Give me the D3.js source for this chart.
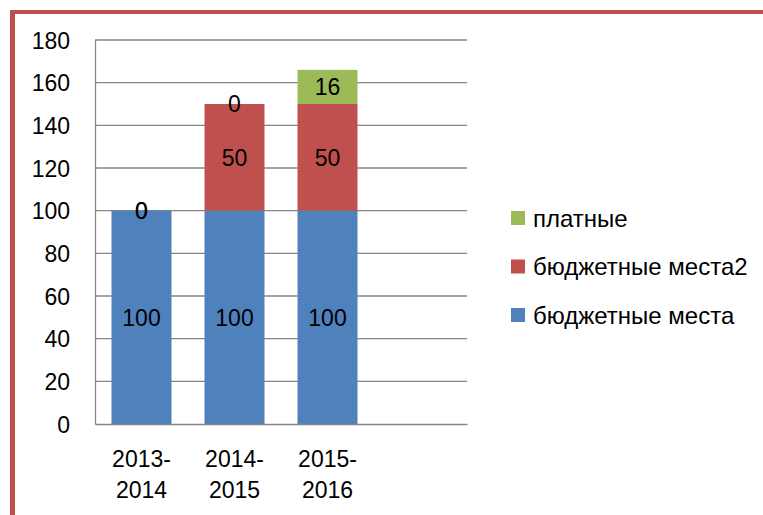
<!DOCTYPE html>
<html>
<head>
<meta charset="utf-8">
<script src="https://cdn.jsdelivr.net/npm/d3@7"></script>
<style>
  body { margin: 0; background: #fff; }
  svg text { font-family: "Liberation Sans", Arial, sans-serif; fill: #000; }
</style>
</head>
<body>
<svg id="chart" width="763" height="515"></svg>
<script>
// data
const categories = ["2013-2014", "2014-2015", "2015-2016", ""];
const seriesNames = ["бюджетные места", "бюджетные места2", "платные"];
const budget = [100, 100, 100];
const budget2 = [0, 50, 50];
const paid = [0, 0, 16];
const yTicks = [0, 20, 40, 60, 80, 100, 120, 140, 160, 180];
const colours = ["#4F81BD", "#C0504D", "#9BBB59"];

const margins = { left: 95, right: 296, top: 40, bottom: 91 };
const svg = d3.select("#chart");
const width = 763 - margins.left - margins.right;
const height = 515 - margins.top - margins.bottom;

// red frame at top and left
svg.append("rect").attr("x", 10).attr("y", 10).attr("width", 753).attr("height", 4).attr("fill", "#C0504D");
svg.append("rect").attr("x", 10).attr("y", 10).attr("width", 5).attr("height", 505).attr("fill", "#C0504D");

const g = svg.append("g").attr("transform", `translate(${margins.left},${margins.top})`);

const x = d3.scaleBand().domain(categories).range([0, width]).paddingInner(0.355).paddingOuter(0.1775);
const y = d3.scaleLinear().domain([0, 180]).range([height, 0]);

// gridlines
g.selectAll("line.grid")
  .data(yTicks.filter((d) => d > 0))
  .join("line")
  .attr("class", "grid")
  .attr("x1", 0).attr("x2", width)
  .attr("y1", (d) => y(d)).attr("y2", (d) => y(d))
  .style("stroke", "#878787").style("stroke-width", 1.3);

const rows = categories.slice(0, 3).map((c, i) => ({
  cat: c, "бюджетные места": budget[i], "бюджетные места2": budget2[i], "платные": paid[i],
}));
const stacked = d3.stack().keys(seriesNames)(rows);

stacked.forEach((layer, si) => {
  g.selectAll(`rect.s${si}`)
    .data(layer)
    .join("rect")
    .attr("class", `s${si}`)
    .attr("x", (d) => x(d.data.cat))
    .attr("width", x.bandwidth())
    .attr("y", (d) => y(d[1]))
    .attr("height", (d) => y(d[0]) - y(d[1]))
    .style("fill", colours[si]);
});

// value labels
stacked.forEach((layer) => {
  g.selectAll(null)
    .data(layer)
    .join("text")
    .attr("x", (d) => x(d.data.cat) + x.bandwidth() / 2)
    .attr("y", (d) => y((d[0] + d[1]) / 2))
    .attr("dy", "0.36em")
    .attr("text-anchor", "middle")
    .style("font-size", "23px")
    .text((d) => d[1] - d[0]);
});

// axes
const yAxis = d3.axisLeft(y).tickValues(yTicks).tickSize(0).tickPadding(25);
const yg = g.append("g").call(yAxis);
yg.select(".domain").style("stroke", "#878787").style("stroke-width", 1.3);
yg.selectAll("text").style("font-size", "23px").attr("dy", "0.36em");

const xg = g.append("g").attr("transform", `translate(0,${height})`).call(d3.axisBottom(x).tickSize(0));
xg.select(".domain").style("stroke", "#878787").style("stroke-width", 1.3);
xg.selectAll(".tick text").remove();
xg.selectAll(".tick")
  .filter((d) => d !== "")
  .each(function (d) {
    const parts = d.split("-");
    const t = d3.select(this).append("text").attr("text-anchor", "middle").style("font-size", "23px");
    t.append("tspan").attr("x", 0).attr("y", 43).text(parts[0] + "-");
    t.append("tspan").attr("x", 0).attr("y", 74).text(parts[1]);
  });

// legend (top to bottom: reversed series order)
const legend = svg.append("g").attr("transform", "translate(511,0)");
const legendItems = seriesNames.slice().reverse();
const legendY = d3.scalePoint().domain(legendItems).range([218, 315]);
legendItems.forEach((name) => {
  const si = seriesNames.indexOf(name);
  legend.append("rect")
    .attr("x", 0).attr("y", legendY(name) - 7)
    .attr("width", 14).attr("height", 14)
    .style("fill", colours[si]);
  legend.append("text")
    .attr("x", 22).attr("y", legendY(name)).attr("dy", "0.36em")
    .style("font-size", "24px")
    .text(name);
});
</script>
</body>
</html>
